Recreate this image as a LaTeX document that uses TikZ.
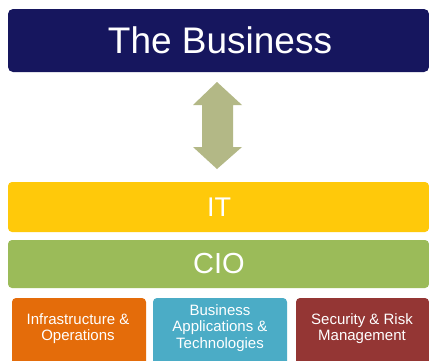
\documentclass[tikz,border=0pt]{standalone}
\usepackage{fontspec}
\setmainfont{Liberation Sans}
\definecolor{navy}{HTML}{16165E}
\definecolor{ityellow}{HTML}{FFC90A}
\definecolor{ciogreen}{HTML}{9BBB59}
\definecolor{infraorange}{HTML}{E46C0A}
\definecolor{appblue}{HTML}{4BACC6}
\definecolor{secred}{HTML}{943634}
\definecolor{arrowgreen}{HTML}{B3B886}
\begin{document}
\begin{tikzpicture}[x=1pt,y=-1pt,
  small/.style={inner sep=0pt, text=white, align=center, font=\fontsize{15}{16.5}\selectfont}]
\useasboundingbox (0,0) rectangle (429,360);
\clip (0,0) rectangle (429,360);
\fill[white] (0,0) rectangle (429,360);
% The Business
\fill[navy, rounded corners=5pt] (8,9) rectangle (429,72);
\node[text=white, font=\fontsize{37}{40}\selectfont] (biz) at (220,40.5) {The Business};
% Arrow
\fill[arrowgreen] (217,82) -- (242,105) -- (233,105) -- (233,147) -- (242,147) -- (217,169) -- (193,147) -- (202,147) -- (202,105) -- (193,105) -- cycle;
% IT
\fill[ityellow, rounded corners=4pt] (8,182) rectangle (429,232);
\node[text=white, font=\fontsize{27}{30}\selectfont] (it) at (219,207) {IT};
% CIO
\fill[ciogreen, rounded corners=4pt] (8,240) rectangle (429,288);
\node[text=white, font=\fontsize{29}{32}\selectfont] (cio) at (219,264) {CIO};
% Bottom boxes
\fill[infraorange, rounded corners=4pt] (12,298) rectangle (146,370);
\fill[appblue, rounded corners=4pt] (153,298) rectangle (287,370);
\fill[secred, rounded corners=4pt] (296,298) rectangle (429,370);
\node[small] (infra) at (78,328.5) {Infrastructure \&\\Operations};
\node[small] (apps) at (220,328) {Business\\Applications \&\\Technologies};
\node[small] (sec) at (362,328.5) {Security \& Risk\\Management};
\end{tikzpicture}
\end{document}
